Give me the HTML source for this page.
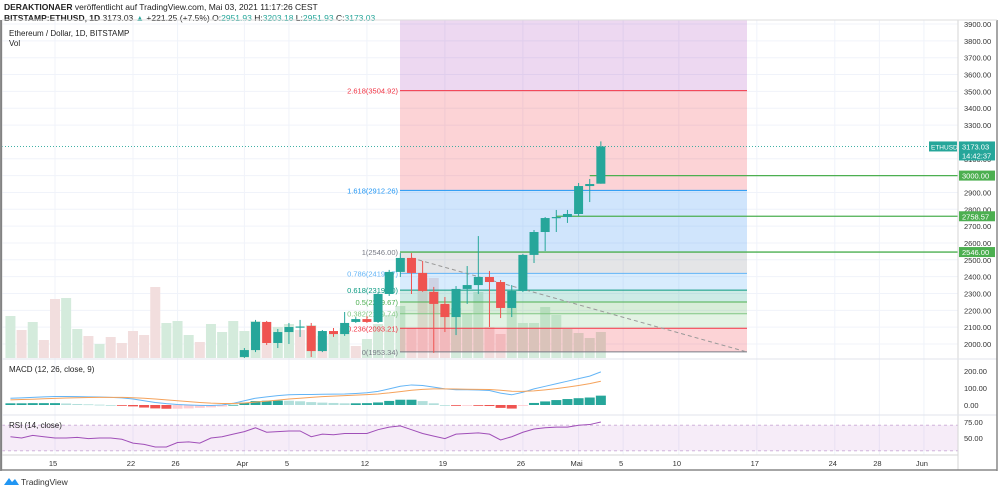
<!DOCTYPE html>
<html><head><meta charset="utf-8"><style>
body{margin:0;background:#fff;font-family:"Liberation Sans",sans-serif;}
svg text{font-family:"Liberation Sans",sans-serif;}
</style></head><body>
<svg id="c" width="1000" height="491" viewBox="0 0 1000 491" xmlns="http://www.w3.org/2000/svg">
<defs>
<clipPath id="mainClip"><rect x="2" y="20" width="956" height="339"/></clipPath>
<clipPath id="macdClip"><rect x="2" y="359" width="956" height="56"/></clipPath>
</defs>
<text x="4" y="10" font-size="8.5" fill="#222"><tspan font-weight="bold">DERAKTIONAER</tspan> veröffentlicht auf TradingView.com, Mai 03, 2021 11:17:26 CEST</text>
<text x="4" y="21" font-size="8.5" fill="#222"><tspan font-weight="bold">BITSTAMP:ETHUSD, 1D</tspan> 3173.03 <tspan fill="#26a69a">▲</tspan> +221.25 (+7.5%) O:<tspan fill="#26a69a">2951.93</tspan> H:<tspan fill="#26a69a">3203.18</tspan> L:<tspan fill="#26a69a">2951.93</tspan> C:<tspan fill="#26a69a">3173.03</tspan></text>
<g id="grid"></g>
<g id="vol" clip-path="url(#mainClip)"></g>
<g id="fib" clip-path="url(#mainClip)"></g>
<g id="candles" clip-path="url(#mainClip)"></g>
<g id="macd" clip-path="url(#macdClip)"></g>
<g id="rsi"></g>
<g id="axes"></g>
<text x="9" y="36" font-size="8" fill="#222">Ethereum / Dollar, 1D, BITSTAMP</text>
<text x="9" y="46" font-size="8" fill="#222">Vol</text>
<text x="9" y="372" font-size="8" fill="#222">MACD (12, 26, close, 9)</text>
<text x="9" y="428" font-size="8" fill="#222">RSI (14, close)</text>
<g><path d="M4 485 L9 478 L12 482 L15 479 L19 485 Z" fill="#2196f3"/><text x="21" y="485" font-size="8.5" fill="#333">TradingView</text></g>
</svg>
<script>
// data arrays (index 0 = Mar 11, 2021)
const candleStart = 21; // Apr 1
const opens  = [1923,1964,2131,2006,2071,2101,2107,1958,2077,2059,2131,2148,2131,2297,2428,2511,2422,2309,2238,2160,2327,2350,2398,2368,2214,2315,2529,2665,2748,2754,2772,2938,2951.93];
const highs  = [1976,2143,2137,2089,2125,2143,2125,2083,2095,2190,2160,2166,2303,2440,2540,2540,2493,2339,2279,2344,2463,2641,2434,2380,2350,2535,2677,2754,2796,2796,2956,2980,3203.18];
const lows   = [1917,1952,1994,1976,2000,2042,1923,1952,2042,2048,2125,2125,2125,2285,2398,2297,2310,1947,2071,2053,2238,2297,2101,2154,2160,2309,2481,2552,2665,2719,2760,2843,2951.93];
const closes = [1964,2131,2006,2071,2101,2104,1958,2077,2059,2125,2148,2131,2297,2428,2511,2422,2315,2238,2160,2327,2350,2398,2368,2214,2315,2529,2665,2748,2754,2772,2938,2950,3173.03];
const volumes = [42,28,36,18,59,60,29,22,14,21,15,27,23,71,35,37,23,16,34,26,37,27,37,36,31,34,28,33,22,24,30,12,19,34,43,52,30,80,80,53,50,45,66,31,24,50,35,35,51,43,29,25,20,26];
const volUp = [1,0,1,0,0,1,1,0,1,0,0,0,0,0,1,1,1,0,1,1,1,1,1,0,1,1,0,1,0,1,1,0,1,1,1,1,0,0,0,0,1,1,1,0,0,1,1,1,1,1,1,1,1,1];
const macdLine = [40,42,45,48,50,50,49,48,47,45,42,35,25,15,8,3,0,-2,-3,0,10,25,40,48,55,60,62,62,63,64,65,68,72,80,95,110,118,115,105,95,90,90,88,85,70,60,75,95,110,125,140,155,170,195];
const signalLine = [30,32,34,37,39,41,43,44,45,45,45,43,40,35,30,25,20,15,11,9,9,12,17,23,29,35,40,45,49,52,55,58,61,65,71,79,87,92,95,95,94,93,92,91,87,81,80,83,89,96,105,115,126,140];
const rsiValues = [52,50,54,52,50,50,51,49,50,50,48,42,40,36,36,43,44,42,50,52,56,60,66,59,60,61,61,52,56,55,57,57,57,63,67,69,63,57,53,49,56,57,58,56,47,52,59,64,66,67,67,70,71,75];
const priceTicks = [2000,2100,2200,2300,2400,2500,2600,2700,2800,2900,3000,3100,3300,3400,3500,3600,3700,3800,3900];
const dateTicks = ["15","22","26","Apr","5","12","19","26","Mai","5","10","17","24","28","Jun"];
const dateTickIdx = [4,11,15,21,25,32,39,46,51,55,60,67,74,78,82];
const fibRatios = [0,0.236,0.382,0.5,0.618,0.786,1,1.618,2.618,3.618];
const fibLow = 1953.34, fibHigh = 2546.00;

const NS="http://www.w3.org/2000/svg";
function el(parent,tag,attrs,text){const e=document.createElementNS(NS,tag);for(const k in attrs)e.setAttribute(k,attrs[k]);if(text!==undefined)e.textContent=text;parent.appendChild(e);return e;}
const px = i => 55 + (i-4)*11.14;
const py = p => 344 - (p-2000)*0.1684;
const my = v => 405 - v*0.17;
const ry = v => 438 - (v-50)*0.64;

// grid
const grid=document.getElementById('grid');
priceTicks.forEach(p=>{const g=el(grid,'line',{x1:2,x2:958,y1:py(p),y2:py(p),stroke:'#f0f3fa','stroke-width':1});

});
dateTickIdx.forEach(i=>{const g=el(grid,'line',{x1:px(i),x2:px(i),y1:20,y2:455,stroke:'#f0f3fa','stroke-width':1});

});

// volume
const vol=document.getElementById('vol');
volumes.forEach((v,i)=>{const r=el(vol,'rect',{x:px(i)-5,y:358-v,width:10,height:v,fill:volUp[i]?'#d4ebdc':'#f2dede'});

});

// fib
const fib=document.getElementById('fib');
const fx1=400, fx2=747;
const fibFill=['rgba(242,54,69,0.22)','rgba(129,199,132,0.22)','rgba(76,175,80,0.22)','rgba(8,153,129,0.2)','rgba(100,181,246,0.25)','rgba(120,123,134,0.2)','rgba(100,170,246,0.3)','rgba(242,54,69,0.22)','rgba(156,39,176,0.18)'];
const fibCol=['#787b86','#f23645','#81c784','#4caf50','#089981','#64b5f6','#787b86','#2196f3','#f23645','#9c27b0'];
const lvl=r=>fibLow+r*(fibHigh-fibLow);
for(let k=0;k<fibRatios.length-1;k++){const a=py(lvl(fibRatios[k])),b=py(lvl(fibRatios[k+1]));
const r=el(fib,'rect',{x:fx1,y:b,width:fx2-fx1,height:a-b,fill:fibFill[k]});

}
fibRatios.forEach((r,k)=>{const y=py(lvl(r));
const l=el(fib,'line',{x1:fx1,x2:fx2,y1:y,y2:y,stroke:fibCol[k],'stroke-width':1});


const t=el(fib,'text',{x:fx1-2,y:y+3,'font-size':7.5,'text-anchor':'end',fill:fibCol[k]},r+'('+lvl(r).toFixed(2)+')');

});
const tl=el(fib,'line',{x1:px(36),y1:py(2511),x2:747,y2:352,stroke:'#999','stroke-dasharray':'4,3','stroke-width':1});



// horizontal levels
const levels=[[3000,px(52)],[2758.57,px(49)],[2546,fx1]];
levels.forEach(([p,x])=>{const l=el(fib,'line',{x1:x,x2:958,y1:py(p),y2:py(p),stroke:'#4caf50','stroke-width':1.3});

});
const lp=el(fib,'line',{x1:2,x2:958,y1:py(3173.03),y2:py(3173.03),stroke:'#26a69a','stroke-dasharray':'1,2','stroke-width':0.8});



// candles
const cg=document.getElementById('candles');
opens.forEach((o,j)=>{const i=candleStart+j,c=closes[j],col=c>=o?'#26a69a':'#ef5350',x=px(i);
const w=el(cg,'line',{x1:x,x2:x,y1:py(highs[j]),y2:py(lows[j]),stroke:col,'stroke-width':1});


const t=py(Math.max(o,c)),b=py(Math.min(o,c));
const r=el(cg,'rect',{x:x-4.5,y:t,width:9,height:Math.max(1.2,b-t),fill:col});

});

// macd
const mg=document.getElementById('macd');
macdLine.forEach((m,i)=>{const h=m-signalLine[i],prev=i?macdLine[i-1]-signalLine[i-1]:h;
let col=h>=0?(h>=prev?'#26a69a':'#b2dfdb'):(h<prev?'#ef5350':'#ffcdd2');
const y0=my(0),y1=my(h);
const r=el(mg,'rect',{x:px(i)-5,y:Math.min(y0,y1),width:10,height:Math.max(0.8,Math.abs(y1-y0)),fill:col});

});
const ml=el(mg,'polyline',{points:macdLine.map((v,i)=>px(i)+','+my(v)).join(' '),fill:'none',stroke:'#64b5f6','stroke-width':1});


const sl=el(mg,'polyline',{points:signalLine.map((v,i)=>px(i)+','+my(v)).join(' '),fill:'none',stroke:'#f5a35c','stroke-width':1});



// rsi
const rg=document.getElementById('rsi');
const band=el(rg,'rect',{x:2,y:ry(70),width:956,height:ry(30)-ry(70),fill:'rgba(156,39,176,0.09)'});


[70,30].forEach(v=>{const l=el(rg,'line',{x1:2,x2:958,y1:ry(v),y2:ry(v),stroke:'#c9a9d6','stroke-dasharray':'3,3','stroke-width':0.8});

});
const rl=el(rg,'polyline',{points:rsiValues.map((v,i)=>px(i)+','+ry(v)).join(' '),fill:'none',stroke:'#a04fb8','stroke-width':1});



// axes
const ax=document.getElementById('axes');
[[2,20,2,470],[958,20,958,470],[2,359,997,359],[2,415,997,415],[2,455,958,455]].forEach(a=>{const l=el(ax,'line',{x1:a[0],y1:a[1],x2:a[2],y2:a[3],stroke:a[1]==a[3]&&a[1]!=455?'#e0e3eb':'#d6d6d6','stroke-width':1});

});
const bb=el(ax,'line',{x1:2,y1:470,x2:997,y2:470,stroke:'#888','stroke-width':1.5});


const lb=el(ax,'line',{x1:1,y1:20,x2:1,y2:471,stroke:'#666','stroke-width':1.5});


const rb=el(ax,'line',{x1:997,y1:20,x2:997,y2:471,stroke:'#888','stroke-width':1.5});


const tb=el(ax,'line',{x1:2,y1:20,x2:997,y2:20,stroke:'#ddd','stroke-width':1});


priceTicks.forEach(p=>{const t=el(ax,'text',{x:964,y:py(p)+3,'font-size':7.5,fill:'#333'},p.toFixed(2));

});
[[200,'200.00'],[100,'100.00'],[0,'0.00']].forEach(([v,s])=>{const t=el(ax,'text',{x:964,y:my(v)+3,'font-size':7.5,fill:'#333'},s);

});
[[75,'75.00'],[50,'50.00']].forEach(([v,s])=>{const t=el(ax,'text',{x:964,y:ry(v)+3,'font-size':7.5,fill:'#333'},s);

});
dateTicks.forEach((s,k)=>{const t=el(ax,'text',{x:px(dateTickIdx[k])-2,y:466,'font-size':7.5,'text-anchor':'middle',fill:'#333'},s);

});
// price tags
function tag(p,label,col,name){const y=py(p);
const r=el(ax,'rect',{x:959,y:y-5,width:36,height:10,fill:col});


const t=el(ax,'text',{x:962,y:y+3,'font-size':7.5,fill:'#fff'},label);

}
tag(3000,'3000.00','#4caf50','level-tag-3000');
tag(2758.57,'2758.57','#4caf50','level-tag-2758');
tag(2546,'2546.00','#4caf50','level-tag-2546');
const ly=py(3173.03);
const sr=el(ax,'rect',{x:929,y:ly-5,width:28,height:10,fill:'#26a69a'});


const st=el(ax,'text',{x:931,y:ly+3,'font-size':6.5,fill:'#fff'},'ETHUSD');


const pr=el(ax,'rect',{x:959,y:ly-5,width:36,height:19,fill:'#26a69a'});


const pt=el(ax,'text',{x:962,y:ly+3,'font-size':7.5,fill:'#fff'},'3173.03');


const ct=el(ax,'text',{x:962,y:ly+12,'font-size':7.5,fill:'#fff'},'14:42:37');


</script>
</body></html>
